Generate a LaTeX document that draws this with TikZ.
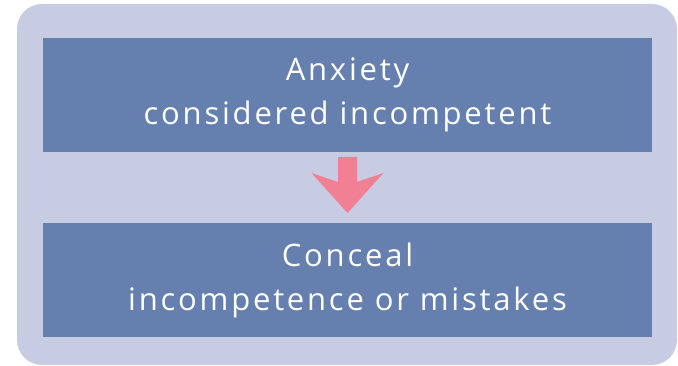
\documentclass[tikz,border=0pt]{standalone}
\usepackage{fontspec}
\setmainfont{Open Sans}[LetterSpace=9]
\usetikzlibrary{positioning}
\definecolor{panelbg}{HTML}{C8CCE2}
\definecolor{boxblue}{HTML}{6580AF}
\definecolor{arrowpink}{HTML}{F28095}
\tikzstyle{block} = [rectangle, minimum width=609pt, minimum height=114pt, outer sep=0pt, align=center, fill=boxblue, text=white, font=\fontsize{31}{44}\selectfont]
\tikzstyle{bigarrow} = [fill=arrowpink]

\begin{document}
\begin{tikzpicture}[x=1pt,y=1pt,node distance=71pt]
    \useasboundingbox (0,0) rectangle (678,366);
    \fill[panelbg, rounded corners=25pt] (17,1) rectangle (677,362);

    \node (anxiety) [block] at (347.5,271) {Anxiety\\considered incompetent};
    \node (conceal) [block, below=of anxiety] {Conceal\\incompetence or mistakes};

    % fat arrow between the boxes
    \fill[bigarrow] ([shift={(-9.5,-5)}]anxiety.south) -- ([shift={(9.5,-5)}]anxiety.south)
        -- ([shift={(9.5,-30)}]anxiety.south) -- ([shift={(36,-21)}]anxiety.south)
        -- ([shift={(0,10)}]conceal.north) -- ([shift={(-36,-21)}]anxiety.south)
        -- ([shift={(-9.5,-30)}]anxiety.south) -- cycle;
\end{tikzpicture}
\end{document}
